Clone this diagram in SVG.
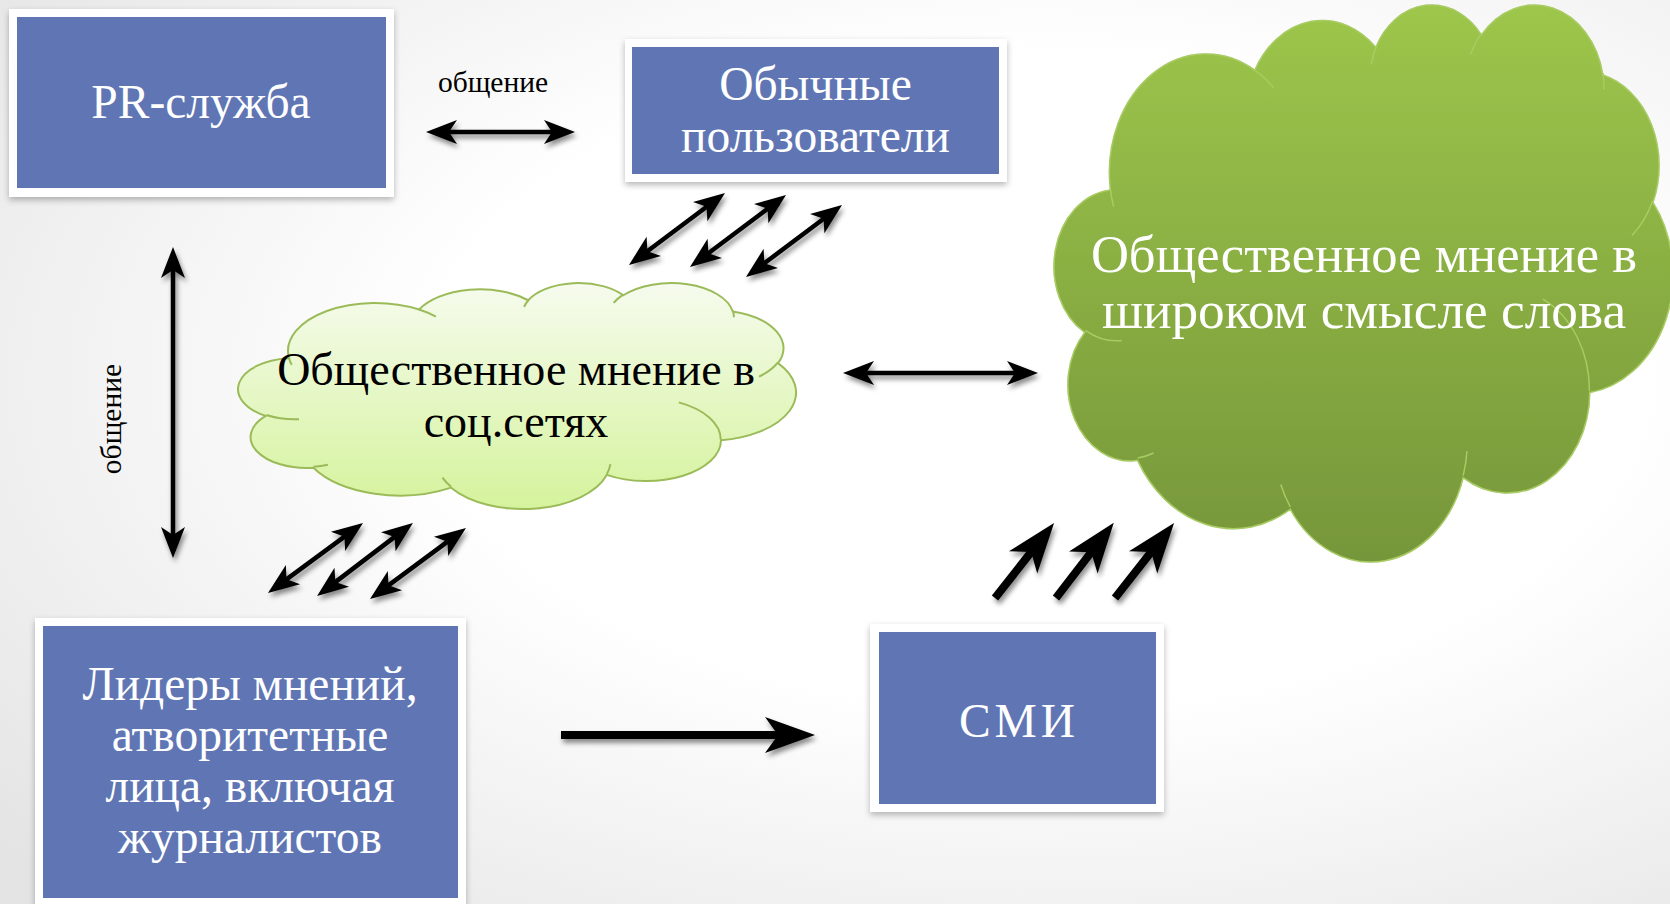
<svg xmlns="http://www.w3.org/2000/svg" xmlns:xlink="http://www.w3.org/1999/xlink" width="1670" height="904" viewBox="0 0 1670 904">
<defs>
  <radialGradient id="bg" cx="0.62" cy="0.42" r="0.8">
    <stop offset="0.45" stop-color="#ffffff"/>
    <stop offset="1" stop-color="#e4e4e4"/>
  </radialGradient>
  <linearGradient id="gBig" x1="0" y1="0" x2="0" y2="1">
    <stop offset="0" stop-color="#9dc64b"/>
    <stop offset="1" stop-color="#76963a"/>
  </linearGradient>
  <linearGradient id="gSmall" x1="0" y1="0" x2="0" y2="1">
    <stop offset="0" stop-color="#f6fbee"/>
    <stop offset="1" stop-color="#d5f39c"/>
  </linearGradient>
  <filter id="shBox" x="-10%" y="-10%" width="120%" height="125%">
    <feDropShadow dx="0" dy="3" stdDeviation="3" flood-color="#000" flood-opacity="0.28"/>
  </filter>
  <filter id="shArrow" x="-20%" y="-20%" width="140%" height="140%">
    <feDropShadow dx="2" dy="4" stdDeviation="2.5" flood-color="#000" flood-opacity="0.45"/>
  </filter>
  <filter id="shCloud" x="-5%" y="-5%" width="110%" height="115%">
    <feDropShadow dx="0" dy="3" stdDeviation="4" flood-color="#000" flood-opacity="0.22"/>
  </filter>
  <marker id="hd" markerUnits="userSpaceOnUse" markerWidth="32" markerHeight="24" refX="11" refY="12" orient="auto-start-reverse" overflow="visible">
    <path d="M31,12 L0,0 L8,12 L0,24 Z" fill="#000"/>
  </marker>
  <marker id="hdBig" markerUnits="userSpaceOnUse" markerWidth="50" markerHeight="36" refX="20" refY="18" orient="auto" overflow="visible">
    <path d="M50,18 L0,0 L13,18 L0,36 Z" fill="#000"/>
  </marker>
  <path id="cloudOuter" vector-effect="non-scaling-stroke" d="M3900,14370 A6753,9190 0 0 1 14005.1,5202.2 A5333,7267 0 0 1 22455.9,3432.2 A4365,5945 0 0 1 29832.9,2480.9 A4857,6595 0 0 1 38318.1,5576.1 A5333,7273 0 0 1 41818.3,15459.8 A6775,9220 0 0 1 37404.2,30203.3 A5785,7867 0 0 1 28556,36813.7 A6752,9215 0 0 1 16480.4,39264.4 A7720,10543 0 0 1 5804.9,35470.2 A4360,5918 0 0 1 2113.6,25548.3 A4345,5945 0 0 1 3863.3,14504.5 Z"/>
  <path id="cloudInner" vector-effect="non-scaling-stroke" fill="none" d="M4693,26177 A4345,5945 0 0 1 2159.8,25380 M6928,34899 A4360,5918 0 0 1 5819.8,35280.4 M16478,39090 A6752,9215 0 0 1 15810.2,37350.1 M28827,34751 A6752,9215 0 0 1 28560.4,36660.2 M34129,22954 A5785,7867 0 0 1 37380.3,30089.5 M41798,15354 A5333,7273 0 0 1 40350,18030.1 M38324,5426 A4857,6595 0 0 1 38400.4,6689.6 M29078,3952 A4857,6595 0 0 1 29819.7,2340.2 M22141,4720 A4365,5945 0 0 1 22500.2,3330.2 M14000,5192 A6753,9190 0 0 1 15299.8,6540.4 M4127,15789 A6753,9190 0 0 1 3900.3,14370.4"/>
</defs>
<style>
  .frame{fill:#ffffff;filter:url(#shBox)}
  .box{fill:#6076b4}
  .t{font-family:"Liberation Serif","DejaVu Serif",serif;text-anchor:middle}
  .tw{fill:#ffffff;font-size:47.5px}
  .tb{fill:#000000;font-size:46px}
  .lbl{fill:#000000;font-size:29.5px}
  .ar{fill:none;stroke:#000;stroke-width:4.5;marker-start:url(#hd);marker-end:url(#hd)}
  .arBig{fill:none;stroke:#000;stroke-width:8;marker-end:url(#hdBig)}
</style>

<rect x="0" y="0" width="1670" height="904" fill="url(#bg)"/>

<g id="cloud-big">
  <g transform="translate(1054.5,3.2) scale(0.01431,0.012888)" filter="url(#shCloud)">
    <use xlink:href="#cloudOuter" fill="url(#gBig)" stroke="#a8cc62" stroke-width="1.5"/>
    <use xlink:href="#cloudInner" stroke="#a8cc62" stroke-width="1.5"/>
  </g>
  <text class="t" x="1364" y="272" fill="#fff" font-size="52.6">Общественное мнение в</text>
  <text class="t" x="1364" y="328" fill="#fff" font-size="53.3">широком смысле слова</text>
</g>

<g id="cloud-small">
  <g transform="translate(238.5,282.3) scale(0.0129,0.00523)">
    <use xlink:href="#cloudOuter" fill="url(#gSmall)" stroke="#9bbb59" stroke-width="2"/>
    <use xlink:href="#cloudInner" stroke="#9bbb59" stroke-width="2"/>
  </g>
  <text class="t tb" x="516" y="385">Общественное мнение в</text>
  <text class="t tb" x="516" y="437">соц.сетях</text>
</g>

<g id="pr">
  <rect class="frame" x="9" y="9" width="385" height="188"/>
  <rect class="box" x="17" y="17" width="369" height="171"/>
  <text class="t tw" x="201" y="118">PR-служба</text>
</g>

<g id="users">
  <rect class="frame" x="625" y="39" width="382" height="143"/>
  <rect class="box" x="632" y="47" width="367" height="127"/>
  <text class="t tw" x="815.5" y="100">Обычные</text>
  <text class="t tw" x="815.5" y="152">пользователи</text>
</g>

<g id="leaders">
  <rect class="frame" x="35" y="618" width="431" height="292"/>
  <rect class="box" x="43" y="626" width="415" height="272"/>
  <text class="t tw" x="250" y="700">Лидеры мнений,</text>
  <text class="t tw" x="250" y="751">атворитетные</text>
  <text class="t tw" x="250" y="802">лица, включая</text>
  <text class="t tw" x="250" y="853">журналистов</text>
</g>

<g id="smi">
  <rect class="frame" x="870" y="624" width="294" height="188"/>
  <rect class="box" x="879" y="632" width="277" height="172"/>
  <text class="t tw" x="1019" y="737" font-size="58" letter-spacing="4">СМИ</text>
</g>

<g id="connectors" filter="url(#shArrow)">
  <path class="ar" d="M446,132 L555,132"/>
  <path class="ar" d="M173,267 L173,538"/>
  <path class="ar" d="M863,373 L1018,373"/>
  <path class="ar" d="M645,253 L709,205"/>
  <path class="ar" d="M706,255 L770,207"/>
  <path class="ar" d="M762,265 L826,217"/>
  <path class="ar" d="M284.1,581.1 L346.9,534.9"/>
  <path class="ar" d="M333,583.9 L397,535.1"/>
  <path class="ar" d="M386.1,587.1 L449.9,539.9"/>
  <path class="arBig" d="M561,735 L785,735"/>
  <path class="arBig" d="M995,598 L1035.5,546.6"/>
  <path class="arBig" d="M1056,598 L1095.5,546.6"/>
  <path class="arBig" d="M1115,598 L1155.5,546.6"/>
</g>

<g id="labels">
  <text class="t lbl" x="493" y="92">общение</text>
  <text class="t lbl" transform="translate(121,419) rotate(-90)">общение</text>
</g>
</svg>
